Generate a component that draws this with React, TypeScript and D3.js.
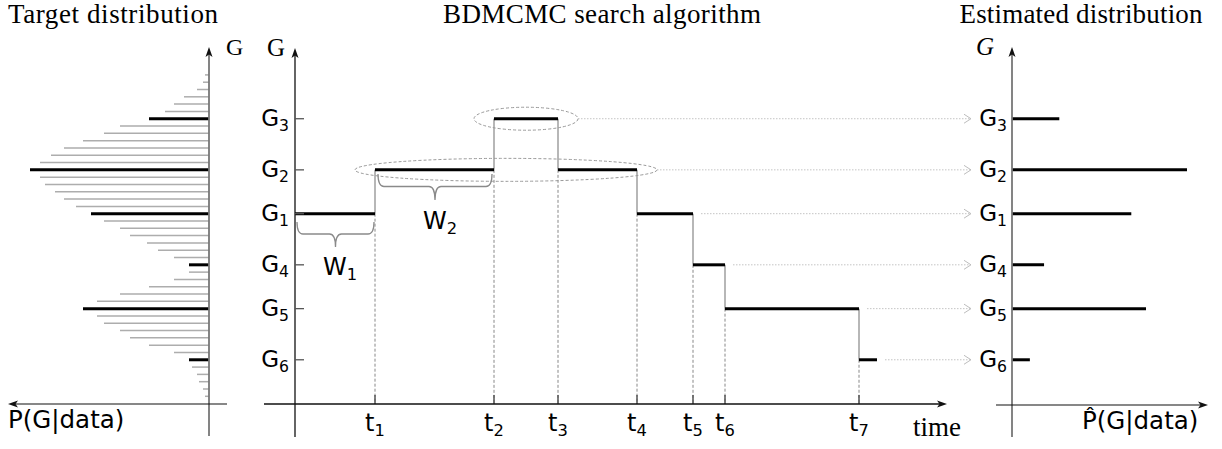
import * as d3 from "d3";

// graph states, listed top to bottom on the G axis
const levels = ["G3", "G2", "G1", "G4", "G5", "G6"];
// where each state sits on the grid of the target distribution (0 = top line)
const levelGrid = [6, 13, 19, 26, 32, 39];

// target distribution P(G|data), one value per grey line, top to bottom
const targetDensity = [
  4, 6, 12, 25, 35, 44, 60, 89, 105, 126, 145, 158, 169, 179, 169, 164, 154, 145, 133, 118, 105, 89,
  79, 62, 51, 35, 20, 20, 35, 60, 89, 112, 126, 112, 105, 89, 79, 60, 35, 20, 17, 12, 10, 6, 4,
];

// BDMCMC chain: visited states and jump times
const visitedStates = ["G1", "G2", "G3", "G2", "G1", "G4", "G5", "G6"];
const jumpTimes = [0, 80, 199, 263, 342, 398, 430, 564];
const endTime = 582;
const timeMax = 652;

// states circled with a dashed ellipse
const circledStates = ["G3", "G2"];

// estimated distribution, same order as levels
const estimated = [0.09, 0.333, 0.227, 0.061, 0.255, 0.034];

const W = 1222;
const H = 449;

const serif = "'Liberation Serif', 'Times New Roman', serif";
const sans = "'DejaVu Sans', sans-serif";

const gridY = d3.scaleLinear().domain([0, targetDensity.length - 1]).range([74.9, 396.3]);
const levelY = (g: string) => gridY(levelGrid[levels.indexOf(g)]);

const leftX = d3.scaleLinear().domain([0, d3.max(targetDensity)!]).range([209, 30]);
const timeX = d3.scaleLinear().domain([0, timeMax]).range([295, 947]);
const rightX = d3.scaleLinear().domain([0, d3.max(estimated)!]).range([1012, 1187]);

const axisY = 404;

function arrowUp(x: number, y: number) {
  return `M${x},${y} L${x - 3.5},${y + 10} L${x},${y + 7.5} L${x + 3.5},${y + 10} Z`;
}
function arrowRight(x: number, y: number) {
  return `M${x},${y} L${x - 10},${y - 3.5} L${x - 7.5},${y} L${x - 10},${y + 3.5} Z`;
}
function arrowLeft(x: number, y: number) {
  return `M${x},${y} L${x + 10},${y - 3.5} L${x + 7.5},${y} L${x + 10},${y + 3.5} Z`;
}

function brace(x0: number, x1: number, y0: number, h: number) {
  const ym = y0 + h * 0.48;
  const cx = (x0 + x1) / 2;
  const r = 6;
  return `M${x0},${y0} Q${x0},${ym} ${x0 + r},${ym} L${cx - r},${ym} Q${cx},${ym} ${cx},${y0 + h}
    Q${cx},${ym} ${cx + r},${ym} L${x1 - r},${ym} Q${x1},${ym} ${x1},${y0}`;
}

function Sub({ x, y, base, sub, anchor = "end", size = 23 }: any) {
  return (
    <text x={x} y={y} fontFamily={sans} fontSize={size} textAnchor={anchor} fill="#000">
      {base}
      <tspan fontSize={size * 0.68} dy={5}>
        {sub}
      </tspan>
    </text>
  );
}

export default function App() {
  const segs = visitedStates.map((g, i) => ({
    g,
    t0: jumpTimes[i],
    t1: i + 1 < jumpTimes.length ? jumpTimes[i + 1] : endTime,
  }));

  const jumps = jumpTimes.slice(1).map((t, i) => {
    const ya = levelY(visitedStates[i]);
    const yb = levelY(visitedStates[i + 1]);
    return { t, idx: i + 1, yTop: Math.min(ya, yb), yBot: Math.max(ya, yb) };
  });

  const ellipses = circledStates.map((g) => {
    const s = segs.filter((d) => d.g === g);
    const a = timeX(d3.min(s, (d) => d.t0)!);
    const b = timeX(d3.max(s, (d) => d.t1)!);
    return { g, cx: (a + b) / 2, rx: (b - a) / 2 + 20, ry: 11.5 };
  });

  const arrows = levels.map((g) => {
    const e = ellipses.find((d) => d.g === g);
    const lastEnd = d3.max(segs.filter((d) => d.g === g), (d) => d.t1)!;
    const x0 = e ? e.cx + e.rx : timeX(lastEnd) + 8;
    return { g, x0, y: levelY(g) };
  });

  const w1 = segs[0];
  const w2 = segs[1];

  return (
    <svg width={W} height={H} style={{ position: "absolute", left: 0, top: 0, background: "#fff" }}>
      {/* titles */}
      <text x={113} y={23} fontFamily={serif} fontSize={27} textAnchor="middle" fill="#000" textLength={210}>
        Target distribution
      </text>
      <text x={602} y={23} fontFamily={serif} fontSize={27} textAnchor="middle" fill="#000" textLength={318}>
        BDMCMC search algorithm
      </text>
      <text x={1081} y={23} fontFamily={serif} fontSize={27} textAnchor="middle" fill="#000" textLength={243}>
        Estimated distribution
      </text>

      {/* ---------- left panel: target distribution ---------- */}
      {targetDensity.map((v, i) =>
        levelGrid.includes(i) ? null : (
          <line key={i} x1={leftX(0)} x2={leftX(v)} y1={gridY(i)} y2={gridY(i)} stroke="#adadad" strokeWidth={1.5} />
        )
      )}
      {levelGrid.map((gi) => (
        <line key={gi} x1={leftX(0)} x2={leftX(targetDensity[gi])} y1={gridY(gi)} y2={gridY(gi)} stroke="#000" strokeWidth={3} />
      ))}
      <line x1={209} x2={209} y1={436} y2={52} stroke="#777" strokeWidth={1.8} />
      <path d={arrowUp(209, 47)} fill="#111" />
      <line x1={227} x2={13} y1={axisY} y2={axisY} stroke="#111" strokeWidth={1.2} />
      <path d={arrowLeft(8, axisY)} fill="#111" />
      <text x={226} y={55} fontFamily={serif} fontSize={24} fill="#000">
        G
      </text>
      <text x={8} y={428} fontFamily={sans} fontSize={24.5} fill="#000">
        P(G|data)
      </text>

      {/* ---------- middle panel: BDMCMC chain ---------- */}
      {/* dashed drop lines and time ticks */}
      {jumps.map((j) => (
        <g key={j.idx}>
          <line x1={timeX(j.t)} x2={timeX(j.t)} y1={j.yBot} y2={axisY} stroke="#888" strokeWidth={1} strokeDasharray="3,2" />
          <line x1={timeX(j.t)} x2={timeX(j.t)} y1={j.yTop} y2={j.yBot} stroke="#999" strokeWidth={1.4} />
          <line x1={timeX(j.t)} x2={timeX(j.t)} y1={axisY - 9} y2={axisY} stroke="#555" strokeWidth={1.5} />
          <Sub x={timeX(j.t)} y={431} base="t" sub={String(j.idx)} anchor="middle" size={24} />
        </g>
      ))}

      {/* dotted arrows to the estimate */}
      {arrows.map((a) => (
        <g key={a.g}>
          <line x1={a.x0} x2={970} y1={a.y} y2={a.y} stroke="#c4c4c4" strokeWidth={1} strokeDasharray="1.5,1.5" />
          <path d={`M${964},${a.y - 4.5} L${971},${a.y} L${964},${a.y + 4.5}`} fill="none" stroke="#bdbdbd" strokeWidth={1} />
        </g>
      ))}

      {/* ellipses */}
      {ellipses.map((e) => (
        <ellipse key={e.g} cx={e.cx} cy={levelY(e.g)} rx={e.rx} ry={e.ry} fill="none" stroke="#999" strokeWidth={1} strokeDasharray="3,2" />
      ))}

      {/* step segments */}
      {segs.map((s, i) => (
        <line key={i} x1={timeX(s.t0)} x2={timeX(s.t1)} y1={levelY(s.g)} y2={levelY(s.g)} stroke="#000" strokeWidth={3} />
      ))}

      {/* braces */}
      <path d={brace(timeX(w1.t0) + 2, timeX(w1.t1) - 1, 222, 25)} fill="none" stroke="#8a8a8a" strokeWidth={1.3} />
      <Sub x={340} y={275} base="W" sub="1" anchor="middle" size={24} />
      <path d={brace(timeX(w2.t0) + 3, timeX(w2.t1) - 2, 174, 26)} fill="none" stroke="#8a8a8a" strokeWidth={1.3} />
      <Sub x={440} y={229} base="W" sub="2" anchor="middle" size={24} />

      {/* axes */}
      <line x1={295} x2={295} y1={437} y2={53} stroke="#111" strokeWidth={1.3} />
      <path d={arrowUp(295, 48)} fill="#111" />
      <line x1={264} x2={942} y1={axisY} y2={axisY} stroke="#111" strokeWidth={1.3} />
      <path d={arrowRight(947, axisY)} fill="#111" />
      {levels.map((g) => (
        <g key={g}>
          <line x1={295} x2={304} y1={levelY(g)} y2={levelY(g)} stroke="#555" strokeWidth={1.3} />
          <Sub x={289} y={levelY(g) + 7} base="G" sub={g.slice(1)} />
        </g>
      ))}
      <text x={276} y={56} fontFamily={serif} fontSize={25} textAnchor="middle" fill="#000">
        G
      </text>
      <text x={913} y={436} fontFamily={serif} fontSize={27} fill="#000">
        time
      </text>

      {/* ---------- right panel: estimated distribution ---------- */}
      {levels.map((g, i) => (
        <g key={g}>
          <line x1={rightX(0)} x2={rightX(estimated[i])} y1={levelY(g)} y2={levelY(g)} stroke="#000" strokeWidth={3} />
          <Sub x={1007} y={levelY(g) + 7} base="G" sub={g.slice(1)} />
        </g>
      ))}
      <line x1={1012} x2={1012} y1={437} y2={52} stroke="#777" strokeWidth={1.8} />
      <path d={arrowUp(1012, 47)} fill="#111" />
      <line x1={996} x2={1203} y1={405} y2={405} stroke="#111" strokeWidth={1.2} />
      <path d={arrowRight(1208, 405)} fill="#111" />
      <text x={985} y={55} fontFamily={serif} fontSize={25} fontStyle="italic" textAnchor="middle" fill="#000">
        G
      </text>
      <text x={1082} y={429} fontFamily={sans} fontSize={24.5} fill="#000">
        P̂(G|data)
      </text>
    </svg>
  );
}
